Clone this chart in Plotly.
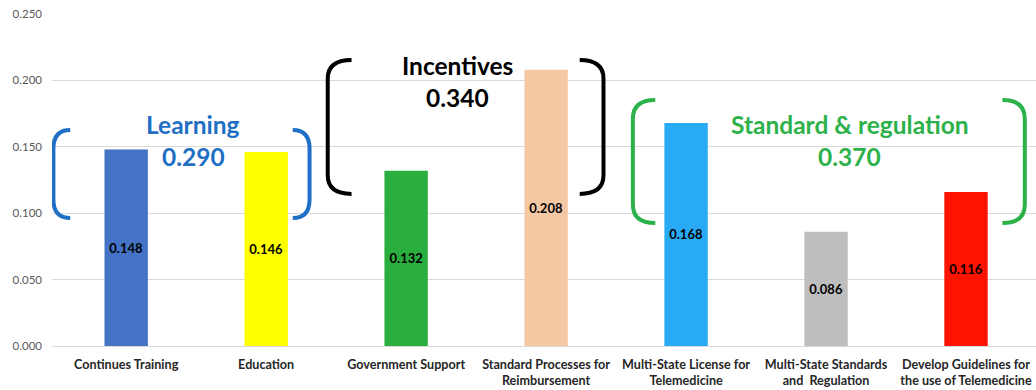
import plotly.graph_objects as go

# Factor weights
categories = [
    "Continues Training",
    "Education",
    "Government Support",
    "Standard Processes for<br>Reimbursement",
    "Multi-State License for<br>Telemedicine",
    "Multi-State Standards<br>and  Regulation",
    "Develop Guidelines for<br>the use of Telemedicine",
]
values = [0.148, 0.146, 0.132, 0.208, 0.168, 0.086, 0.116]
bar_colors = ["#4472C4", "#FFFF00", "#2AAE3E", "#F4C8A3", "#28AAF5", "#BEBEBE", "#FF1200"]

# Groups: name, total weight, colour, bracket span (x left tip/outer, right tip/outer), y top/bottom
groups = [
    dict(name="Learning", total="0.290", color="#1F6FC5",
         xl=(-0.40, -0.52), xr=(1.19, 1.31), yt=0.1627, yb=0.0964,
         xt=0.48, y1=0.1665, y2=0.1425),
    dict(name="Incentives", total="0.340", color="#000000",
         xl=(1.61, 1.44), xr=(3.24, 3.41), yt=0.2154, yb=0.1145,
         xt=2.37, y1=0.2115, y2=0.1875),
    dict(name="Standard &amp; regulation", total="0.370", color="#2DB14A",
         xl=(3.78, 3.62), xr=(6.26, 6.42), yt=0.1852, yb=0.0926,
         xt=5.17, y1=0.1665, y2=0.1425),
]

x = list(range(len(categories)))

fig = go.Figure(
    go.Bar(
        x=x,
        y=values,
        marker=dict(color=bar_colors, line=dict(width=0)),
        width=0.31,
        text=[f"{v:.3f}" for v in values],
        textposition="inside",
        insidetextanchor="middle",
        textangle=0,
        textfont=dict(family="Lato", size=13, color="#000000", weight="bold"),
        hoverinfo="skip",
    )
)


def bracket_path(x_tip, x_out, y_top, y_bot, r=0.014):
    """Rounded square bracket opening towards x_tip."""
    return (
        f"M {x_tip},{y_top} "
        f"Q {x_out},{y_top} {x_out},{y_top - r} "
        f"L {x_out},{y_bot + r} "
        f"Q {x_out},{y_bot} {x_tip},{y_bot}"
    )


shapes = []
annotations = []
for g in groups:
    for tip, out in (g["xl"], g["xr"]):
        shapes.append(dict(
            type="path", xref="x", yref="y",
            path=bracket_path(tip, out, g["yt"], g["yb"]),
            line=dict(color=g["color"], width=4),
            layer="above",
        ))
    annotations.append(dict(
        x=g["xt"], y=g["y1"], xref="x", yref="y", text=f"<b>{g['name']}</b>",
        showarrow=False, font=dict(family="Lato", size=24.5, color=g["color"]),
    ))
    annotations.append(dict(
        x=g["xt"], y=g["y2"], xref="x", yref="y", text=f"<b>{g['total']}</b>",
        showarrow=False, font=dict(family="Lato", size=24.5, color=g["color"]),
    ))

fig.update_layout(
    width=1036,
    height=390,
    margin=dict(l=52, r=0, t=14, b=44),
    paper_bgcolor="white",
    plot_bgcolor="white",
    showlegend=False,
    shapes=shapes,
    annotations=annotations,
    xaxis=dict(
        range=[-0.53, 6.5],
        tickmode="array",
        tickvals=x,
        ticktext=[f"<b>{c}</b>" for c in categories],
        tickfont=dict(family="Lato", size=12.6, color="#262626"),
        showgrid=False,
        zeroline=False,
        showline=False,
        ticks="",
        tickangle=0,
        ticklabelstandoff=9,
    ),
    yaxis=dict(
        range=[0, 0.25],
        tickvals=[0, 0.05, 0.10, 0.15, 0.20, 0.25],
        tickformat=".3f",
        tickfont=dict(family="Lato", size=11.5, color="#595959"),
        showgrid=True,
        gridcolor="#D9D9D9",
        gridwidth=1,
        zeroline=True,
        zerolinecolor="#D9D9D9",
        zerolinewidth=1,
        showline=False,
        ticks="",
        ticklabelstandoff=9,
    ),
)

fig.write_html("out.html")
